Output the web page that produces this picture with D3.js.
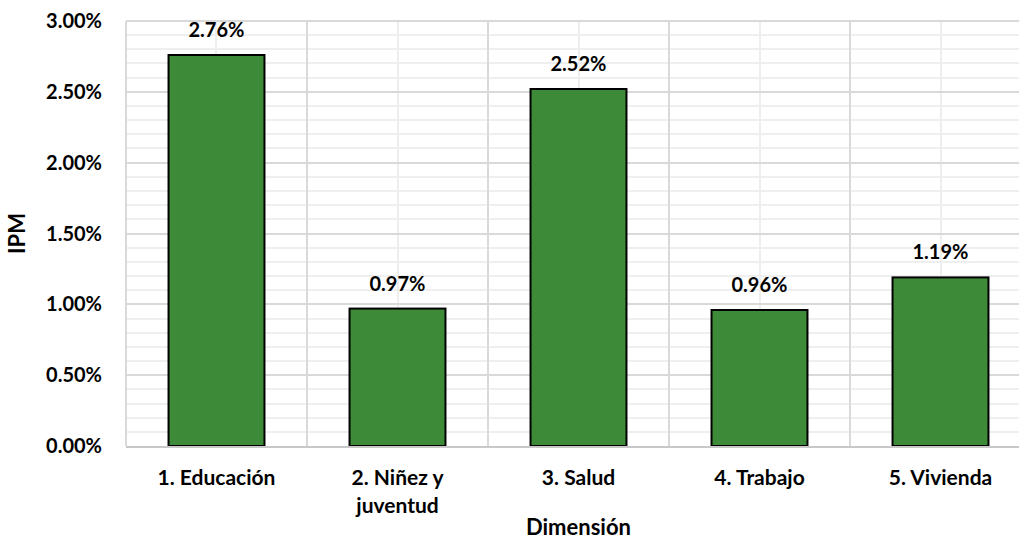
<!DOCTYPE html>
<html>
<head>
<meta charset="utf-8">
<script src="https://cdn.jsdelivr.net/npm/d3@7"></script>
<style>
  body { margin: 0; background: #fff; }
  svg { display: block; font-family: Lato, "Open Sans", sans-serif; font-weight: bold; }
</style>
</head>
<body>
<script>
// Datos
var categorias = ["1. Educación", "2. Niñez y juventud", "3. Salud", "4. Trabajo", "5. Vivienda"];
var lineas = [["1. Educación"], ["2. Niñez y", "juventud"], ["3. Salud"], ["4. Trabajo"], ["5. Vivienda"]];
var valores = [0.0276, 0.0097, 0.0252, 0.0096, 0.0119];
var ticksY = [0, 0.005, 0.01, 0.015, 0.02, 0.025, 0.03];

var w = 1019;
var h = 541;
var mIzq = 126, mDer = 1031, mSup = 21, mInf = 446;

var svg = d3.select("body")
    .append("svg")
        .attr("width", w)
        .attr("height", h);

var x = d3.scaleBand()
    .domain(categorias)
    .range([mIzq, mDer])
    .paddingInner(0.47)
    .paddingOuter(0.235);

var y = d3.scaleLinear()
    .domain([0, 0.03])
    .range([mInf, mSup]);

// lineas secundarias (cada 0.1%)
var menores = d3.range(0, 31).map(function(d) { return d / 1000; });
svg.append("g").selectAll("line")
    .data(menores.filter(function(d, i) { return i % 5 != 0; }))
    .enter().append("line")
        .attr("x1", mIzq).attr("x2", mDer)
        .attr("y1", function(d) { return Math.round(y(d)); })
        .attr("y2", function(d) { return Math.round(y(d)); })
        .attr("stroke", "#efefef").attr("stroke-width", 2);

// lineas verticales en el centro de cada categoria
svg.append("g").selectAll("line")
    .data(categorias)
    .enter().append("line")
        .attr("x1", function(d) { return Math.round(x(d) + x.bandwidth() / 2); })
        .attr("x2", function(d) { return Math.round(x(d) + x.bandwidth() / 2); })
        .attr("y1", mSup).attr("y2", mInf)
        .attr("stroke", "#eeeeee").attr("stroke-width", 2);

// lineas principales horizontales
svg.append("g").selectAll("line")
    .data(ticksY.slice(1))
    .enter().append("line")
        .attr("x1", mIzq).attr("x2", mDer)
        .attr("y1", function(d) { return Math.round(y(d)); })
        .attr("y2", function(d) { return Math.round(y(d)); })
        .attr("stroke", "#d9d9d9").attr("stroke-width", 2);

// lineas verticales entre categorias
var step = x.step();
svg.append("g").selectAll("line")
    .data(categorias)
    .enter().append("line")
        .attr("x1", function(d) { return Math.round(x(d) - x.paddingOuter() * step); })
        .attr("x2", function(d) { return Math.round(x(d) - x.paddingOuter() * step); })
        .attr("y1", mSup).attr("y2", mInf)
        .attr("stroke", "#d9d9d9").attr("stroke-width", 2);

// barras
svg.selectAll("rect.barra")
    .data(valores)
    .enter()
        .append("rect")
        .attr("class", "barra")
        .attr("x", function(d, i) { return x(categorias[i]); })
        .attr("y", function(d) { return y(d); })
        .attr("width", x.bandwidth())
        .attr("height", function(d) { return mInf - y(d); })
        .attr("fill", "#3d8a39")
        .attr("stroke", "#000")
        .attr("stroke-width", 2);

// eje inferior
svg.append("line")
    .attr("x1", mIzq).attr("x2", mDer)
    .attr("y1", mInf + 1).attr("y2", mInf + 1)
    .attr("stroke", "#c8c8c8").attr("stroke-width", 2);

// etiquetas de datos
svg.selectAll("text.valor")
    .data(valores)
    .enter()
        .append("text")
        .attr("class", "valor")
        .attr("x", function(d, i) { return x(categorias[i]) + x.bandwidth() / 2; })
        .attr("y", function(d) { return y(d) - 18; })
        .attr("text-anchor", "middle")
        .attr("font-size", 20)
        .text(function(d) { return (d * 100).toFixed(2) + "%"; });

// eje Y
svg.selectAll("text.ticky")
    .data(ticksY)
    .enter()
        .append("text")
        .attr("class", "ticky")
        .attr("x", 102)
        .attr("y", function(d) { return y(d) + 7; })
        .attr("text-anchor", "end")
        .attr("font-size", 20)
        .text(function(d) { return (d * 100).toFixed(2) + "%"; });

// etiquetas de categorias
var cat = svg.selectAll("text.cat")
    .data(lineas)
    .enter()
        .append("text")
        .attr("class", "cat")
        .attr("text-anchor", "middle")
        .attr("font-size", 21)
        .attr("transform", function(d, i) {
            return "translate(" + (x(categorias[i]) + x.bandwidth() / 2) + ",485)";
        });
cat.selectAll("tspan")
    .data(function(d) { return d; })
    .enter().append("tspan")
        .attr("x", 0)
        .attr("y", function(d, i) { return i * 28; })
        .text(function(d) { return d; });

// titulos de ejes
svg.append("text")
    .attr("x", (mIzq + mDer) / 2)
    .attr("y", 535)
    .attr("text-anchor", "middle")
    .attr("font-size", 22)
    .text("Dimensión");

svg.append("text")
    .attr("transform", "translate(25," + ((mSup + mInf) / 2) + ") rotate(-90)")
    .attr("text-anchor", "middle")
    .attr("font-size", 22)
    .text("IPM");
</script>
</body>
</html>
